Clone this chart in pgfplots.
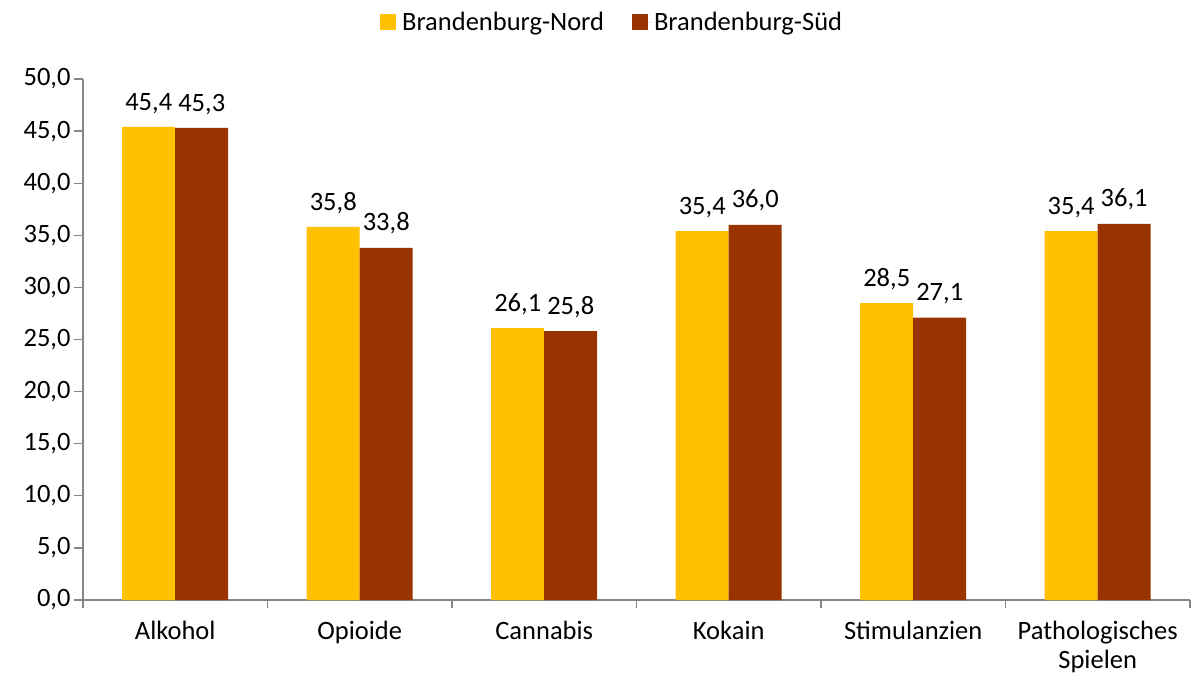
\documentclass[border=0pt]{standalone}
\usepackage{pgfplots}
\pgfplotsset{compat=1.18}
\usepackage{fontspec}
\setmainfont{Carlito}
\definecolor{nord}{HTML}{FFC000}
\definecolor{sued}{HTML}{993300}
\definecolor{axgray}{HTML}{868686}
\begin{document}
\begin{tikzpicture}
\useasboundingbox (-83bp,-77bp) rectangle (1112bp,600bp);
\begin{axis}[
  at={(0,0)}, anchor=south west,
  scale only axis,
  width=1107bp, height=521bp,
  font=\fontsize{26.5bp}{32bp}\selectfont,
  ybar=0pt, bar width=53bp,
  xmin=-0.5, xmax=5.5,
  ymin=0, ymax=50,
  ytick={0,5,...,50},
  xtick={0,...,5},
  xticklabels={Alkohol,Opioide,Cannabis,Kokain,Stimulanzien,{Pathologisches\\Spielen}},
  xticklabel style={align=center, text depth=0pt, yshift=-9bp, font=\fontsize{26.5bp}{29bp}\selectfont},
  major x tick style={draw=none},
  minor xtick={-0.5,0.5,...,5.5},
  minor tick length=8bp,
  major tick length=9bp,
  tick align=outside,
  axis x line*=bottom, axis y line*=left,
  axis line style={axgray, line width=1.2bp, -},
  tick style={axgray, line width=1.2bp},
  minor tick style={axgray, line width=1.2bp},
  /pgf/number format/assume math mode=true,
  /pgf/number format/use comma,
  yticklabel style={/pgf/number format/fixed, /pgf/number format/fixed zerofill, /pgf/number format/precision=1},
  nodes near coords,
  nodes near coords style={/pgf/number format/fixed, /pgf/number format/fixed zerofill, /pgf/number format/precision=1},
  every node near coord/.append style={font=\fontsize{26.5bp}{32bp}\selectfont, black, yshift=10bp},
  legend style={at={(0.478,1.109)}, anchor=center, legend columns=2, draw=none,
    font=\fontsize{26.5bp}{32bp}\selectfont,
    /tikz/every even column/.append style={column sep=26bp}},
  legend image code/.code={\fill[#1] (0bp,-8bp) rectangle (16bp,8bp); \path (0bp,0bp) -- (20bp,0bp);},
  clip=false,
]
\addplot[fill=nord, draw=none] coordinates {(0,45.4) (1,35.8) (2,26.1) (3,35.4) (4,28.5) (5,35.4)};
\addplot[fill=sued, draw=none] coordinates {(0,45.3) (1,33.8) (2,25.8) (3,36.0) (4,27.1) (5,36.1)};
\legend{Brandenburg-Nord, Brandenburg-Süd}
\end{axis}
\end{tikzpicture}
\end{document}
